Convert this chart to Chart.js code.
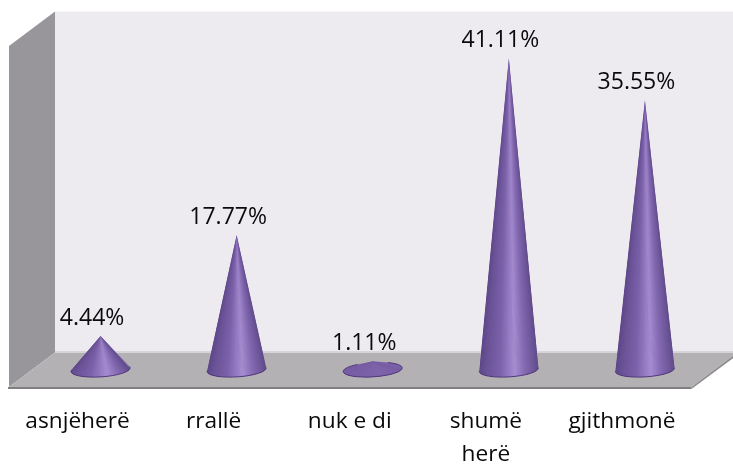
<!DOCTYPE html>
<html>
<head>
<meta charset="utf-8">
<style>html,body{margin:0;padding:0;background:#fff}canvas{display:block}</style>
<script src="https://cdn.jsdelivr.net/npm/chart.js@4"></script>
</head>
<body>
<canvas id="c" width="733" height="464"></canvas>
<script>
const categories = ["asnjëherë", "rrallë", "nuk e di", ["shumë", "herë"], "gjithmonë"];
const values = [4.44, 17.77, 1.11, 41.11, 35.55];
const valueLabels = ["4.44%", "17.77%", "1.11%", "41.11%", "35.55%"];

const FONT = "'Open Sans', sans-serif";
const DEPTH_X = 46, DEPTH_Y = 34.6;
const HALF_X = 23, HALF_Y = 17.3;
const RX = 29.6, RY = 7.2, ROT = -3.6 * Math.PI / 180;

// conical shading stops: position across the base, rgb
const BASE_RGB = [122, 96, 166];
const SHADE = [[0, [92, 70, 134]], [0.12, [106, 82, 150]], [0.35, [124, 98, 170]], [0.6, [166, 140, 208]], [0.78, [130, 104, 176]], [0.92, [110, 86, 154]], [1, [96, 76, 136]]];
function shade(t, k) {
  let rgb = SHADE[SHADE.length - 1][1];
  for (let i = 1; i < SHADE.length; i++) {
    if (t <= SHADE[i][0]) {
      const [a, ca] = SHADE[i - 1], [b, cb] = SHADE[i], f = (t - a) / (b - a);
      rgb = ca.map((v, j) => v + (cb[j] - v) * f);
      break;
    }
  }
  return "rgb(" + rgb.map((v, j) => Math.round(BASE_RGB[j] + (v - BASE_RGB[j]) * k)).join(",") + ")";
}

// draw each bar as a cone, using the geometry the bar scale computed
Chart.BarElement.prototype.draw = function (ctx) {
  const cx = this.x + HALF_X, cy = this.base - HALF_Y, tipX = cx, tipY = this.y - HALF_Y;
  const dx = tipX - cx, dy = tipY - cy, c = Math.cos(-ROT), s = Math.sin(-ROT);
  const ux = (dx * c - dy * s) / RX, uy = (dx * s + dy * c) / RY;
  const d = Math.hypot(ux, uy), a = Math.atan2(uy, ux), w = Math.acos(Math.min(1, 1 / d));
  const t1 = a + w, t2 = a - w + 2 * Math.PI;
  const strength = Math.min(1, Math.max(0, (cy - tipY - 6) / 24));
  ctx.save();
  ctx.beginPath();
  ctx.moveTo(tipX, tipY);
  ctx.ellipse(cx, cy, RX, RY, ROT, t1, t2, false);
  ctx.closePath();
  ctx.fillStyle = "#7a60a6";
  ctx.fill();
  ctx.save();
  ctx.clip();
  const yb = cy + RY * 1.6, spread = (yb - tipY) / (cy - tipY), N = 60;
  for (let i = 0; i < N; i++) {
    const x0 = cx + (2 * i / N - 1) * RX * spread, x1 = cx + (2 * (i + 1.5) / N - 1) * RX * spread;
    ctx.beginPath();
    ctx.moveTo(tipX, tipY);
    ctx.lineTo(x0, yb);
    ctx.lineTo(x1, yb);
    ctx.closePath();
    ctx.fillStyle = shade((i + 0.5) / N, strength);
    ctx.fill();
  }
  ctx.restore();
  ctx.lineWidth = 1;
  ctx.strokeStyle = this.options.borderColor;
  ctx.beginPath();
  ctx.ellipse(cx, cy, RX, RY, ROT, t1, t2, false);
  ctx.stroke();
  ctx.restore();
};

const walls = {
  id: "walls",
  beforeDatasetsDraw(chart) {
    const { ctx, chartArea: a } = chart;
    const L = a.left - 0.5, R = a.right + 1.5, T = a.top, B = a.bottom;
    const poly = (pts, fill) => {
      ctx.beginPath();
      pts.forEach((p, i) => i ? ctx.lineTo(p[0], p[1]) : ctx.moveTo(p[0], p[1]));
      ctx.closePath();
      ctx.fillStyle = fill;
      ctx.fill();
    };
    ctx.save();
    poly([[L + DEPTH_X, T - DEPTH_Y], [chart.width, T - DEPTH_Y], [chart.width, B - DEPTH_Y], [L + DEPTH_X, B - DEPTH_Y]], "#edebf0");
    poly([[L, T], [L + DEPTH_X, T - DEPTH_Y], [L + DEPTH_X, B - DEPTH_Y], [L, B]], "#98969a");
    poly([[L, B], [L + DEPTH_X, B - DEPTH_Y], [R + DEPTH_X, B - DEPTH_Y], [R, B]], "#b3b1b4");
    poly([[L + DEPTH_X, B - DEPTH_Y - 1.5], [chart.width, B - DEPTH_Y - 1.5], [chart.width, B - DEPTH_Y], [L + DEPTH_X, B - DEPTH_Y]], "#d8d6da");
    poly([[L - 1, B], [R, B], [R, B + 2], [L - 1, B + 2]], "#807e80");
    poly([[R, B], [R + DEPTH_X, B - DEPTH_Y], [R + DEPTH_X, B - DEPTH_Y + 2.5], [R, B + 2]], "#8e8c8e");
    ctx.restore();
  }
};

const barLabels = {
  id: "barLabels",
  afterDatasetsDraw(chart) {
    const { ctx } = chart;
    ctx.save();
    ctx.font = "23px " + FONT;
    ctx.fillStyle = "#0a0a0a";
    ctx.textAlign = "center";
    ctx.textBaseline = "alphabetic";
    chart.getDatasetMeta(0).data.forEach((el, i) => {
      ctx.fillText(valueLabels[i], el.x + HALF_X - 8.5, el.y - HALF_Y - 11.5);
    });
    ctx.restore();
  }
};

new Chart(document.getElementById("c"), {
  type: "bar",
  data: {
    labels: categories,
    datasets: [{ data: values, backgroundColor: "#8064a2", borderColor: "#52397c", borderWidth: 0 }]
  },
  plugins: [walls, barLabels],
  options: {
    responsive: false,
    animation: false,
    layout: { padding: { left: 9.5, right: 43, top: 46, bottom: 0 } },
    plugins: { legend: { display: false }, tooltip: { enabled: false }, title: { display: false } },
    scales: {
      x: {
        grid: { display: false },
        border: { display: false },
        afterFit(scale) { scale.height = 77; },
        ticks: { maxRotation: 0, minRotation: 0, autoSkip: false, padding: 10, color: "#0a0a0a",
                  font: { family: FONT, size: 22.7, lineHeight: 1.45 } }
      },
      y: { display: false, min: 0, max: 45 }
    }
  }
});
</script>
</body>
</html>
